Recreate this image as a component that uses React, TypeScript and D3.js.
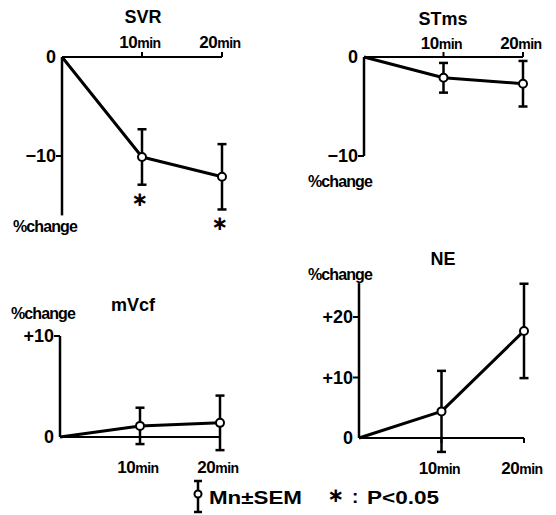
import React from 'react';
import { scaleLinear, line } from 'd3';

// minutes after start
const times = [0, 10, 20];
const timeLabels = ['10', '20'];

const svrMean = [0, -10.1, -12.1];
const svrSem = [0, 2.8, 3.3];
const svrSig = [false, true, true];

const stmsMean = [0, -2.1, -2.7];
const stmsSem = [0, 1.5, 2.3];

const mvcfMean = [0, 1.1, 1.4];
const mvcfSem = [0, 1.8, 2.7];

const neMean = [0, 4.4, 17.7];
const neSem = [0, 6.7, 7.8];

const svrTicks = [0, -10];
const stmsTicks = [0, -10];
const mvcfTicks = [0, 10];
const neTicks = [0, 10, 20];

const FONT = '"Liberation Sans", Arial, sans-serif';
const STAR_FONT = '"DejaVu Sans", sans-serif';

const tickText = (v) => (v === 0 ? '0' : v < 0 ? '\u2212' + Math.abs(v) : '+' + v);

function MinLabel({ x, y, t }) {
	return (
		<text x={x} y={y} textAnchor="middle" fontFamily={FONT} fontWeight="bold" letterSpacing={-0.5}>
			<tspan fontSize={17}>{t}</tspan>
			<tspan fontSize={14}>min</tspan>
		</text>
	);
}

function Panel({ title, titlePos, mean, sem, sig, ticks, xRange, yDomain, yRange, axisEnd, labelsTop, labelY, changePos }) {
	const x = scaleLinear().domain([0, 20]).range(xRange);
	const y = scaleLinear().domain(yDomain).range(yRange);
	const path = line()
		.x((d, i) => x(times[i]))
		.y((d) => y(d))(mean);
	const y0 = y(0);
	const ox = x(0);

	return (
		<g fontFamily={FONT} fontWeight="bold" fill="#000">
			<text x={titlePos[0]} y={titlePos[1]} textAnchor="middle" fontSize={18}>
				{title}
			</text>
			{/* y axis */}
			<line x1={ox} x2={ox} y1={y0} y2={y(axisEnd)} stroke="#000" strokeWidth={2.5} />
			{/* x axis */}
			<line x1={ox} x2={x(20)} y1={y0} y2={y0} stroke="#000" strokeWidth={2.2} />
			{times.slice(1).map((t, i) => (
				<g key={t}>
					<line
						x1={x(t)}
						x2={x(t)}
						y1={y0}
						y2={labelsTop ? y0 - 5 : y0 + 5}
						stroke="#000"
						strokeWidth={2}
					/>
					<MinLabel x={x(t) - 2} y={labelY} t={timeLabels[i]} />
				</g>
			))}
			{ticks.map((v) => (
				<g key={v}>
					{v !== 0 && <line x1={ox - 6} x2={ox} y1={y(v)} y2={y(v)} stroke="#000" strokeWidth={2} />}
					<text x={ox - 6} y={y(v)} dy="0.36em" textAnchor="end" fontSize={18}>
						{tickText(v)}
					</text>
				</g>
			))}
			<text x={changePos[0]} y={changePos[1]} fontSize={16} letterSpacing={-0.9}>
				%change
			</text>
			<path d={path} fill="none" stroke="#000" strokeWidth={3} strokeLinejoin="round" />
			{mean.map((m, i) =>
				i === 0 ? null : (
					<g key={i}>
						<line x1={x(times[i])} x2={x(times[i])} y1={y(m + sem[i])} y2={y(m - sem[i])} stroke="#000" strokeWidth={2.5} />
						<line x1={x(times[i]) - 4.5} x2={x(times[i]) + 4.5} y1={y(m + sem[i])} y2={y(m + sem[i])} stroke="#000" strokeWidth={2.5} />
						<line x1={x(times[i]) - 4.5} x2={x(times[i]) + 4.5} y1={y(m - sem[i])} y2={y(m - sem[i])} stroke="#000" strokeWidth={2.5} />
						<circle cx={x(times[i])} cy={y(m)} r={4} fill="#fff" stroke="#000" strokeWidth={2} />
						{sig && sig[i] && (
							<text
								x={x(times[i]) - 2}
								y={y(m - sem[i]) + 15}
								dy="0.3em"
								textAnchor="middle"
								fontFamily={STAR_FONT}
								fontSize={20}
							>
								∗
							</text>
						)}
					</g>
				)
			)}
		</g>
	);
}

export default function App() {
	return (
		<svg width={556} height={515} style={{ position: 'absolute', left: 0, top: 0, background: '#fff' }}>
			<Panel
				title="SVR"
				titlePos={[143, 23]}
				mean={svrMean}
				sem={svrSem}
				sig={svrSig}
				ticks={svrTicks}
				xRange={[62, 222]}
				yDomain={[0, -10]}
				yRange={[57, 156]}
				axisEnd={-16}
				labelsTop
				labelY={48}
				changePos={[13, 232]}
			/>
			<Panel
				title="STms"
				titlePos={[443, 25]}
				mean={stmsMean}
				sem={stmsSem}
				ticks={stmsTicks}
				xRange={[364, 523]}
				yDomain={[0, -10]}
				yRange={[57, 156]}
				axisEnd={-10}
				labelsTop
				labelY={49}
				changePos={[308, 187]}
			/>
			<Panel
				title="mVcf"
				titlePos={[133, 311]}
				mean={mvcfMean}
				sem={mvcfSem}
				ticks={mvcfTicks}
				xRange={[60, 220]}
				yDomain={[0, 10]}
				yRange={[437, 336]}
				axisEnd={10}
				labelY={473}
				changePos={[11, 319]}
			/>
			<Panel
				title="NE"
				titlePos={[443, 265]}
				mean={neMean}
				sem={neSem}
				ticks={neTicks}
				xRange={[359, 524]}
				yDomain={[0, 10]}
				yRange={[438, 377.5]}
				axisEnd={25.6}
				labelY={474}
				changePos={[308, 280]}
			/>
			{/* legend */}
			<g fontFamily={FONT} fontWeight="bold">
				<line x1={198} x2={198} y1={481} y2={512} stroke="#000" strokeWidth={2.5} />
				<line x1={194} x2={202} y1={481} y2={481} stroke="#000" strokeWidth={2.5} />
				<line x1={194} x2={202} y1={512} y2={512} stroke="#000" strokeWidth={2.5} />
				<circle cx={198} cy={494} r={3.5} fill="#fff" stroke="#000" strokeWidth={2} />
				<text x={209} y={504} fontSize={19} textLength={93} lengthAdjust="spacingAndGlyphs">
					Mn±SEM
				</text>
				<text x={336} y={496} dy="0.3em" fontSize={20} textAnchor="middle" fontFamily={STAR_FONT}>
					∗
				</text>
				<text x={352} y={503} fontSize={19}>
					:
				</text>
				<text x={367} y={504} fontSize={19} textLength={72} lengthAdjust="spacingAndGlyphs">
					P&lt;0.05
				</text>
			</g>
		</svg>
	);
}
